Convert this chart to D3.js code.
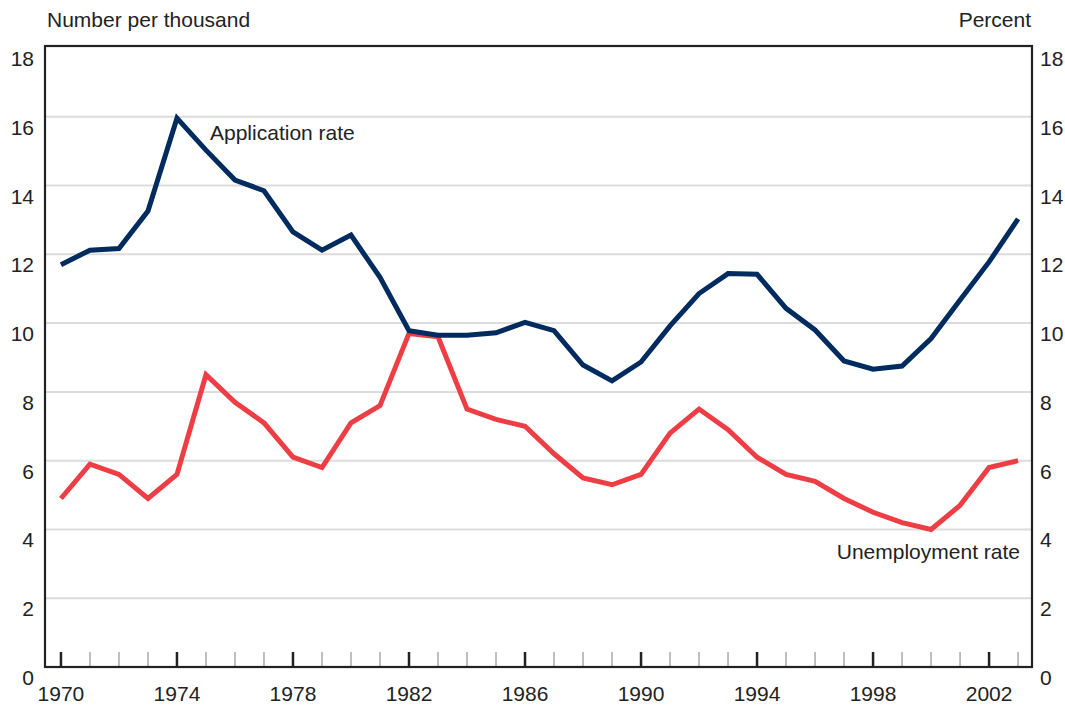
<!DOCTYPE html>
<html>
<head>
<meta charset="utf-8">
<script src="https://cdn.jsdelivr.net/npm/d3@7"></script>
<style>
  body { margin: 0; background: #fff; }
  svg { display: block; font-family: "Liberation Sans", Arial, sans-serif; }
</style>
</head>
<body>
<svg id="chart" width="1065" height="707"></svg>
<script>
// data
var years = d3.range(1970, 2004);
var applicationRate = [11.7, 12.12, 12.17, 13.26, 15.96, 15.03, 14.16, 13.85, 12.65, 12.12,
  12.56, 11.33, 9.78, 9.65, 9.65, 9.72, 10.02, 9.78, 8.78, 8.32,
  8.87, 9.92, 10.86, 11.44, 11.42, 10.43, 9.8, 8.9, 8.66, 8.75,
  9.55, 10.67, 11.78, 13.03];
var unemploymentRate = [4.9, 5.9, 5.6, 4.9, 5.6, 8.5, 7.7, 7.1, 6.1, 5.8,
  7.1, 7.6, 9.7, 9.6, 7.5, 7.2, 7.0, 6.2, 5.5, 5.3,
  5.6, 6.8, 7.5, 6.9, 6.1, 5.6, 5.4, 4.9, 4.5, 4.2,
  4.0, 4.7, 5.8, 6.0];
var yTicks = [0, 2, 4, 6, 8, 10, 12, 14, 16, 18];
var xLabels = [1970, 1974, 1978, 1982, 1986, 1990, 1994, 1998, 2002];

var svg = d3.select("#chart");
var plotLeft = 45, plotRight = 1032, plotTop = 46, plotBottom = 667;

var x = d3.scaleLinear().domain([1969.45, 2003.48]).range([plotLeft, plotRight]);
var y = d3.scaleLinear().domain([0, 18]).range([plotBottom, 48]);

// gridlines
svg.append("g")
  .selectAll("line")
  .data(yTicks.filter(d => d > 0 && d < 18))
  .join("line")
  .attr("x1", plotLeft)
  .attr("x2", plotRight)
  .attr("y1", d => y(d))
  .attr("y2", d => y(d))
  .attr("stroke", "#dcdcdc")
  .attr("stroke-width", 2);

// year ticks
svg.append("g")
  .selectAll("line")
  .data(years)
  .join("line")
  .attr("x1", d => x(d))
  .attr("x2", d => x(d))
  .attr("y1", plotBottom)
  .attr("y2", plotBottom - 15)
  .attr("stroke", d => (xLabels.indexOf(d) >= 0 ? "#222" : "#b8b8b8"))
  .attr("stroke-width", d => (xLabels.indexOf(d) >= 0 ? 2.5 : 1.8));

// frame
svg.append("rect")
  .attr("x", plotLeft)
  .attr("y", plotTop)
  .attr("width", plotRight - plotLeft)
  .attr("height", plotBottom - plotTop)
  .attr("fill", "none")
  .attr("stroke", "#222")
  .attr("stroke-width", 2.2);

var line = d3.line()
  .x((d, i) => x(years[i]))
  .y(d => y(d));

svg.append("path")
  .datum(unemploymentRate)
  .attr("d", line)
  .attr("fill", "none")
  .attr("stroke", "#ee3e45")
  .attr("stroke-width", 5)
  .attr("stroke-linejoin", "miter");

svg.append("path")
  .datum(applicationRate)
  .attr("d", line)
  .attr("fill", "none")
  .attr("stroke", "#002b5f")
  .attr("stroke-width", 5)
  .attr("stroke-linejoin", "miter");

// y labels, left and right
var labelStyle = sel => sel.attr("font-size", 21).attr("fill", "#222");

svg.append("g")
  .selectAll("text")
  .data(yTicks)
  .join("text")
  .attr("x", 34)
  .attr("y", d => y(d) + 18)
  .attr("text-anchor", "end")
  .text(d => d)
  .call(labelStyle);

svg.append("g")
  .selectAll("text")
  .data(yTicks)
  .join("text")
  .attr("x", 1040)
  .attr("y", d => y(d) + 18)
  .text(d => d)
  .call(labelStyle);

// x labels
svg.append("g")
  .selectAll("text")
  .data(xLabels)
  .join("text")
  .attr("x", d => x(d))
  .attr("y", 701)
  .attr("text-anchor", "middle")
  .text(d => d)
  .call(labelStyle);

// axis titles
svg.append("text").attr("x", 47).attr("y", 27).text("Number per thousand").call(labelStyle);
svg.append("text").attr("x", 1031).attr("y", 27).attr("text-anchor", "end").text("Percent").call(labelStyle);

// series labels
svg.append("text").attr("x", 210).attr("y", 140).text("Application rate").call(labelStyle);
svg.append("text").attr("x", 1020).attr("y", 559).attr("text-anchor", "end").text("Unemployment rate").call(labelStyle);
</script>
</body>
</html>
